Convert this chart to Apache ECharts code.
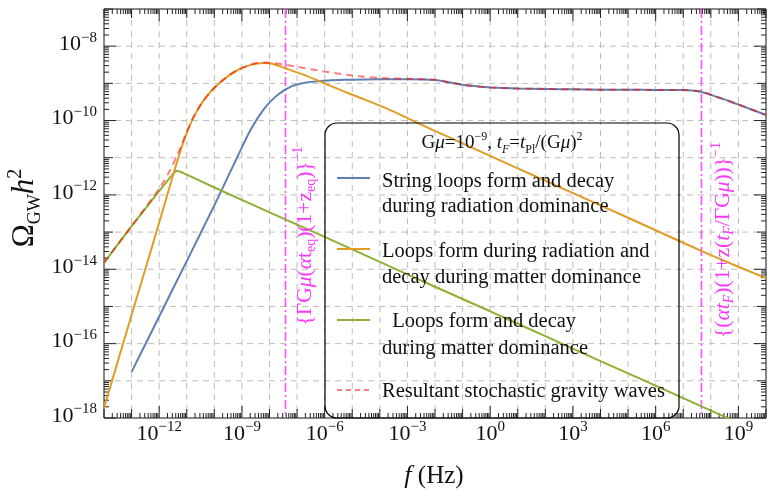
<!DOCTYPE html>
<html><head><meta charset="utf-8">
<script src="https://cdn.jsdelivr.net/npm/echarts@6/dist/echarts.min.js"></script>
<style>html,body{margin:0;padding:0;background:#fff}#c{width:768px;height:490px}</style>
</head><body><div id="c"></div>
<script>
// ---- data: log10 readings from the reference (x = log10 f[Hz], y = log10 Omega h^2) ----
const radX = [-13, -12, -11, -10, -9.5, -9, -8.7, -8.4, -8.1, -7.8, -7.5, -7.2, -6.9, -6.5, -6, -5.5, -5, -4, -3, -2, -1.5, -1, -0.5, 0, 1, 2, 3, 4, 5, 6, 7, 7.3, 7.6, 7.9, 8.2, 8.6, 9, 9.5, 10];
const radY = [-16.76, -15.27, -13.78, -12.28, -11.5, -10.72, -10.27, -9.9, -9.6, -9.37, -9.2, -9.08, -9.01, -8.96, -8.93, -8.91, -8.9, -8.89, -8.89, -8.91, -8.97, -9.04, -9.08, -9.11, -9.14, -9.15, -9.16, -9.17, -9.17, -9.18, -9.18, -9.19, -9.22, -9.28, -9.36, -9.46, -9.57, -9.71, -9.85];

const radMatX = [-14, -13, -12.2, -11.5, -11.2, -11, -10.8, -10.6, -10.4, -10.2, -10, -9.7, -9.4, -9.1, -8.8, -8.5, -8.2, -7.9, -7.4, -6.8, -6.1, -5.4, -4.6, -3.8, -2, 0, 2, 4, 6, 8, 10];
const radMatY = [-17.73, -15.23, -13.25, -11.48, -10.75, -10.33, -9.98, -9.7, -9.47, -9.28, -9.12, -8.92, -8.75, -8.62, -8.53, -8.47, -8.45, -8.47, -8.6, -8.76, -8.97, -9.19, -9.42, -9.66, -10.28, -10.95, -11.62, -12.28, -12.95, -13.62, -14.24];

const matX = [-14, -13, -12, -11.7, -11.5, -11.37, -11.25, -11.1, -10, -8, -6, -4, -2, 0, 2, 4, 6, 8, 9];
const matY = [-13.83, -12.84, -11.9, -11.62, -11.44, -11.36, -11.37, -11.42, -11.8, -12.47, -13.13, -13.8, -14.47, -15.13, -15.8, -16.47, -17.13, -17.8, -18.13];

const totX = [-14, -13, -12.5, -12.2, -12, -11.8, -11.6, -11.4, -11.2, -11, -10.8, -10.6, -10.4, -10.2, -10, -9.7, -9.4, -9.1, -8.8, -8.5, -8.2, -7.9, -7.4, -6.8, -6.1, -5.4, -4.6, -3.8, -3, -2, -1.5, -1, -0.5, 0, 1, 2, 3, 4, 5, 6, 7, 7.3, 7.6, 7.9, 8.2, 8.6, 9, 9.5, 10];
const totY = [-13.82, -12.84, -12.35, -12.04, -11.83, -11.6, -11.33, -11.02, -10.68, -10.3, -9.97, -9.7, -9.47, -9.28, -9.12, -8.92, -8.75, -8.62, -8.53, -8.46, -8.44, -8.45, -8.5, -8.58, -8.67, -8.75, -8.82, -8.86, -8.88, -8.9, -8.97, -9.04, -9.08, -9.11, -9.14, -9.15, -9.16, -9.17, -9.17, -9.18, -9.18, -9.19, -9.22, -9.28, -9.36, -9.46, -9.57, -9.71, -9.85];

const markerExps = [-7.42, 7.66];

// ---- axes / ticks ----
const xDecades = [-14, -13, -12, -11, -10, -9, -8, -7, -6, -5, -4, -3, -2, -1, 0, 1, 2, 3, 4, 5, 6, 7, 8, 9, 10];
const yDecades = [-18, -17, -16, -15, -14, -13, -12, -11, -10, -9, -8, -7];
const xLabelExps = [-12, -9, -6, -3, 0, 3, 6, 9];
const yLabelExps = [-18, -16, -14, -12, -10, -8];
const minorMult = [2, 3, 4, 5, 6, 7, 8, 9];

const legendTitle = '{n|G}{i|μ}{n|=10}{p|−9}{n|, }{i|t}{ib|F}{n|=}{i|t}{sb|Pl}{n|/(G}{i|μ}{n|)}{p|2}';
const legendLines = [
  ['String loops form and decay', 'during radiation dominance'],
  ['Loops form during radiation and', 'decay during matter dominance'],
  ['  Loops form and decay', 'during matter dominance'],
  ['Resultant stochastic gravity waves']
];
const colors = ['#5e81b5', '#e19c24', '#8fb032', 'rgba(255,0,0,0.5)'];

const FONT = '"Liberation Serif", "DejaVu Serif", serif';
const P = e => Math.pow(10, e);
const pairs = (xs, ys) => xs.map((x, i) => [P(x), P(ys[i])]);
const expLabel = e => (e < 0 ? '−' + (-e) : String(e));

const TICK_RICH = {
  b: { fontFamily: FONT, fontSize: 22, lineHeight: 28, verticalAlign: 'middle', fill: '#111' },
  s: { fontFamily: FONT, fontSize: 15, lineHeight: 16, verticalAlign: 'top', fill: '#111' }
};

function renderFrame(params, api) {
  if (params.dataIndex !== 0) return;
  const cs = params.coordSys;
  const L = cs.x, T = cs.y, R = cs.x + cs.width, B = cs.y + cs.height;
  const y0 = P(yDecades[0]), x0 = P(xDecades[0]);
  const gx = v => api.coord([v, y0])[0];
  const gy = v => api.coord([x0, v])[1];
  const grid = [], ticks = [], labels = [];
  const gridStyle = { stroke: '#bdbdbd', lineWidth: 1, lineDash: [6, 5] };
  const tickStyle = { stroke: '#222', lineWidth: 1 };
  const ln = (x1, y1, x2, y2, st) => ({ type: 'line', shape: { x1, y1, x2, y2 }, style: st });
  xDecades.forEach((e, i) => {
    const X = gx(P(e));
    if (i > 0 && i < xDecades.length - 1) grid.push(ln(X, T, X, B, gridStyle));
    const len = xLabelExps.includes(e) ? 12 : 9;
    ticks.push(ln(X, B, X, B - len, tickStyle), ln(X, T, X, T + len, tickStyle));
    if (i < xDecades.length - 1) minorMult.forEach(m => {
      const Xm = gx(m * P(e));
      ticks.push(ln(Xm, B, Xm, B - 5, tickStyle), ln(Xm, T, Xm, T + 5, tickStyle));
    });
    if (xLabelExps.includes(e)) labels.push({ type: 'text', x: X, y: B + 16,
      style: { text: '{b|10}{s|' + expLabel(e) + '}', rich: TICK_RICH, align: 'center', verticalAlign: 'middle', fontFamily: FONT, fontSize: 22, fill: '#111' } });
  });
  yDecades.forEach((e, i) => {
    const Y = gy(P(e));
    if (i > 0 && i < yDecades.length - 1) grid.push(ln(L, Y, R, Y, gridStyle));
    const len = yLabelExps.includes(e) ? 12 : 9;
    ticks.push(ln(L, Y, L + len, Y, tickStyle), ln(R, Y, R - len, Y, tickStyle));
    if (i < yDecades.length - 1) minorMult.forEach(m => {
      const Ym = gy(m * P(e));
      ticks.push(ln(L, Ym, L + 5, Ym, tickStyle), ln(R, Ym, R - 5, Ym, tickStyle));
    });
    if (yLabelExps.includes(e)) labels.push({ type: 'text', x: L - 7, y: Y - 2,
      style: { text: '{b|10}{s|' + expLabel(e) + '}', rich: TICK_RICH, align: 'right', verticalAlign: 'middle', fontFamily: FONT, fontSize: 22, fill: '#111' } });
  });
  return { type: 'group', children: grid.concat(ticks, labels) };
}

function renderMarkers(params, api) {
  if (params.dataIndex !== 0) return;
  const cs = params.coordSys;
  return { type: 'group', children: markerExps.map(e => {
    const X = api.coord([P(e), P(yDecades[0])])[0];
    return { type: 'line', shape: { x1: X, y1: cs.y, x2: X, y2: cs.y + cs.height },
      style: { stroke: '#ff4dff', lineWidth: 1.6, lineDash: [9, 3, 2, 3] } };
  }) };
}

const chart = echarts.init(document.getElementById('c'), null, { renderer: 'canvas' });

const magenta = '#ff33ff';
const SMALL_RICH = (fs, col) => ({
  n: { fontFamily: FONT, fontSize: fs, lineHeight: fs + 6, verticalAlign: 'middle', fill: col },
  i: { fontFamily: FONT, fontSize: fs, fontStyle: 'italic', lineHeight: fs + 6, verticalAlign: 'middle', fill: col },
  p: { fontFamily: FONT, fontSize: Math.round(fs * 0.65), lineHeight: Math.round(fs * 0.65), verticalAlign: 'top', fill: col },
  sb: { fontFamily: FONT, fontSize: Math.round(fs * 0.65), lineHeight: Math.round(fs * 0.65), verticalAlign: 'bottom', fill: col },
  ib: { fontFamily: FONT, fontSize: Math.round(fs * 0.65), fontStyle: 'italic', lineHeight: Math.round(fs * 0.65), verticalAlign: 'bottom', fill: col }
});

const legendIconY = [178, 249, 320, 390];
const legendTextY = [[182, 207], [252, 278], [322, 349], [392]];
const graphics = [];
graphics.push({ type: 'rect', shape: { x: 325, y: 123, width: 354, height: 295, r: 12 }, style: { fill: 'none', stroke: '#000', lineWidth: 1.2 }, z: 10 });
graphics.push({ type: 'text', x: 502, y: 143, z: 10, style: { text: legendTitle, rich: SMALL_RICH(19, '#111'), align: 'center', verticalAlign: 'middle', fontFamily: FONT, fontSize: 19, fill: '#111' } });
legendLines.forEach((lines, k) => {
  graphics.push({ type: 'line', z: 10, shape: { x1: 337, y1: legendIconY[k], x2: 370, y2: legendIconY[k] },
    style: { stroke: colors[k], lineWidth: 2, lineDash: k === 3 ? [5, 4] : null } });
  lines.forEach((t, j) => graphics.push({ type: 'text', z: 10, x: 382, y: legendTextY[k][j],
    style: { text: t, fontFamily: FONT, fontSize: 20.5, fill: '#111', align: 'left', verticalAlign: 'middle' } }));
});
// vertical marker labels
graphics.push({ type: 'text', x: 305, y: 236, rotation: Math.PI / 2, z: 10,
  style: { text: '{n|{ΓG}{i|μ}{n|(}{i|α}{n|t}{sb|eq}{n|)(1+z}{sb|eq}{n|)}}{p|−1}', rich: SMALL_RICH(21.5, magenta), align: 'center', verticalAlign: 'middle', fontFamily: FONT, fontSize: 21.5, fill: magenta } });
graphics.push({ type: 'text', x: 723, y: 240, rotation: Math.PI / 2, z: 10,
  style: { text: '{n|{(}{i|αt}{ib|F}{n|)(1+z(}{i|t}{ib|F}{n|/ΓG}{i|μ}{n|))}}{p|−1}', rich: SMALL_RICH(21.5, magenta), align: 'center', verticalAlign: 'middle', fontFamily: FONT, fontSize: 21.5, fill: magenta } });
// axis titles
graphics.push({ type: 'text', x: 25, y: 208, rotation: Math.PI / 2, z: 10,
  style: { text: '{o|Ω}{sb|GW}{i|h}{p|2}', align: 'center', verticalAlign: 'middle', fontFamily: FONT, fontSize: 31, fill: '#111',
    rich: {
      o: { fontFamily: FONT, fontSize: 31, lineHeight: 38, verticalAlign: 'middle', fill: '#111' },
      i: { fontFamily: FONT, fontSize: 31, fontStyle: 'italic', lineHeight: 38, verticalAlign: 'middle', fill: '#111' },
      sb: { fontFamily: FONT, fontSize: 18, lineHeight: 20, verticalAlign: 'bottom', fill: '#111' },
      p: { fontFamily: FONT, fontSize: 20, lineHeight: 22, verticalAlign: 'top', fill: '#111' }
    } } });
graphics.push({ type: 'text', x: 434, y: 476, z: 10,
  style: { text: '{i|f}{n| (Hz)}', align: 'center', verticalAlign: 'middle', fontFamily: FONT, fontSize: 25, fill: '#111',
    rich: {
      i: { fontFamily: FONT, fontSize: 26, fontStyle: 'italic', fill: '#111' },
      n: { fontFamily: FONT, fontSize: 25, fill: '#111' }
    } } });

const lineSeries = (name, xs, ys, col, z, extra) => Object.assign({
  name, type: 'line', data: pairs(xs, ys), showSymbol: false, symbol: 'none', smooth: 0.2, z,
  lineStyle: { color: col, width: 2 }, emphasis: { disabled: true }, silent: true, clip: true
}, extra || {});

chart.setOption({
  animation: false,
  grid: { left: 104, right: 2, top: 9, bottom: 72, show: true, borderColor: '#111', borderWidth: 1, backgroundColor: 'transparent', containLabel: false, outerBoundsMode: 'none' },
  xAxis: { type: 'log', logBase: 10, min: P(xDecades[0]), max: P(xDecades[xDecades.length - 1]),
    axisLine: { show: false }, axisTick: { show: false }, axisLabel: { show: false }, splitLine: { show: false }, minorTick: { show: false } },
  yAxis: { type: 'log', logBase: 10, min: P(yDecades[0]), max: P(yDecades[yDecades.length - 1]),
    axisLine: { show: false }, axisTick: { show: false }, axisLabel: { show: false }, splitLine: { show: false }, minorTick: { show: false } },
  graphic: graphics,
  series: [
    { type: 'custom', coordinateSystem: 'cartesian2d', renderItem: renderFrame, data: [[1, 1e-12]], z: 1, silent: true },
    { type: 'custom', coordinateSystem: 'cartesian2d', renderItem: renderMarkers, data: [[1, 1e-12]], z: 2, silent: true },
    lineSeries('String loops form and decay during radiation dominance', radX, radY, colors[0], 3),
    lineSeries('Loops form during radiation and decay during matter dominance', radMatX, radMatY, colors[1], 4),
    lineSeries('Loops form and decay during matter dominance', matX, matY, colors[2], 3),
    lineSeries('Resultant stochastic gravity waves', totX, totY, colors[3], 5, {
      lineStyle: { color: colors[3], width: 2, type: [7, 5] }
    })
  ]
});
</script>
</body></html>
